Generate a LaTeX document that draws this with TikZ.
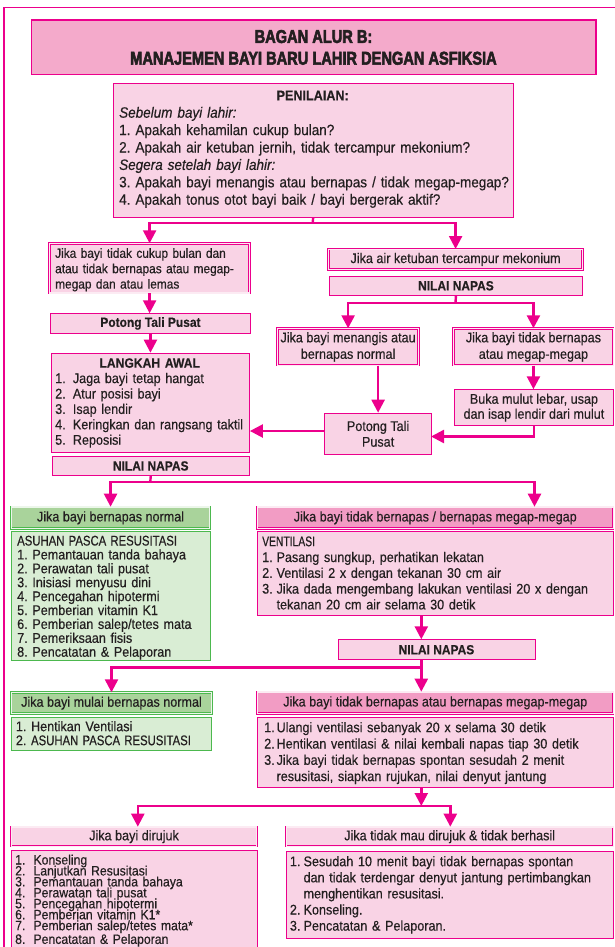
\documentclass[tikz,border=0pt]{standalone}
\usepackage{fontspec}
\usepackage{graphicx}
\setmainfont{Liberation Sans}[FakeStretch=0.9,FakeBold=0.4]
\newfontfamily\titlefont{Liberation Sans Bold}[FakeStretch=0.79,FakeBold=3]
\usetikzlibrary{arrows.meta}
\definecolor{mag}{RGB}{236,0,140}
\definecolor{pkl}{RGB}{249,211,229}
\definecolor{pkd}{RGB}{242,156,196}
\definecolor{pkt}{RGB}{244,170,203}
\definecolor{grl}{RGB}{217,237,212}
\definecolor{grd}{RGB}{169,211,155}
\definecolor{grb}{RGB}{76,184,78}
\definecolor{ink}{RGB}{35,31,32}
\newcommand\tightlines{\lineskiplimit=-20pt\relax\lineskip=0pt\relax}
\newcommand\nrw[1]{\scalebox{0.9}[1]{#1}}
\frenchspacing
\tikzset{
  bx/.style={draw=mag, fill=pkl, line width=0.9pt, inner sep=0pt, anchor=north west,
    text=ink, align=center, font=\fontsize{14}{16.5}\selectfont},
  dbl/.style={bx, line width=0.6pt, double=white!55!pkl, double distance=1.1pt},
  gbx/.style={bx, draw=grb, fill=grl},
  gdbl/.style={dbl, draw=grb, fill=grd, double=white!50!grl},
  pdbl/.style={dbl, fill=pkd},
  bold/.style={font=\bfseries\fontsize{13.3}{15}\selectfont},
  txt/.style={anchor=base west, inner sep=0pt, align=left, text=ink},
  ln/.style={draw=mag, line width=2.4pt},
  arr/.style={ln, -{Triangle[width=13pt,length=13pt]}},
  arrtwo/.style={ln, {Triangle[width=13pt,length=13pt]}-{Triangle[width=13pt,length=13pt]}}
}
\begin{document}
\begin{tikzpicture}[x=1pt,y=-1pt]
\useasboundingbox (0,0) rectangle (614,947);
% outer frame
\draw[mag, line width=1.3pt] (4,970) -- (4,7.5) -- (640,7.5);

% title
\node[bx, fill=pkt, line width=1.5pt, minimum width=564.5pt, minimum height=54.7pt,
  font=\titlefont\fontsize{18.5}{21.7}\selectfont] (title) at (30.5,19.3)
  {BAGAN ALUR B:\\MANAJEMEN BAYI BARU LAHIR DENGAN ASFIKSIA};

% penilaian
\node[bx, minimum width=400pt, minimum height=133.4pt] (pen) at (112.7,83.3) {};
\node[txt, text width=394pt, font=\fontsize{15}{17.4}\selectfont] (pent) at (119,100.3)
  {\makebox[387pt][c]{\bfseries\fontsize{14}{17.4}\selectfont PENILAIAN:}\\
   \textit{Sebelum bayi lahir:}\\
   1. Apakah kehamilan cukup bulan?\\
   2. Apakah air ketuban jernih, tidak tercampur mekonium?\\
   \textit{Segera setelah bayi lahir:}\\
   3. Apakah bayi menangis atau bernapas / tidak megap-megap?\\
   4. Apakah tonus otot bayi baik / bayi bergerak aktif?};

% left column
\node[dbl, minimum width=200pt, minimum height=49.4pt] (b1) at (49.3,243.3) {};
\node[txt, text width=192pt, font=\fontsize{13.2}{15.4}\selectfont] (b1t) at (55,257.8)
  {\makebox[190pt][s]{Jika bayi tidak cukup bulan dan}\\
   \makebox[190pt][s]{atau tidak bernapas atau megap-}\\
   megap dan atau lemas};
\node[bx, bold, minimum width=200pt, minimum height=19.4pt] (pt1) at (50,313.3) {Potong Tali Pusat};
\node[bx, minimum width=198.3pt, minimum height=99pt] (la) at (50.7,352.7) {};
\node[txt, text width=192pt, font=\fontsize{14}{15.4}\selectfont] (lat) at (55,367.7)
  {\makebox[189pt][c]{\bfseries\fontsize{13.5}{15.4}\selectfont LANGKAH AWAL}\\
   \makebox[17.7pt][l]{1.}Jaga bayi tetap hangat\\
   \makebox[17.7pt][l]{2.}Atur posisi bayi\\
   \makebox[17.7pt][l]{3.}Isap lendir\\
   \makebox[17.7pt][l]{4.}Keringkan dan rangsang taktil\\
   \makebox[17.7pt][l]{5.}Reposisi};
\node[bx, bold, minimum width=196.6pt, minimum height=19pt] (nn1) at (52,456) {NILAI NAPAS};

% right upper
\node[dbl, minimum width=254pt, minimum height=20.3pt] (ak) at (328.3,249) {Jika air ketuban tercampur mekonium};
\node[bx, bold, minimum width=252.4pt, minimum height=19.3pt] (nn2) at (329.3,275.7) {NILAI NAPAS};
\node[dbl, minimum width=141pt, minimum height=36.7pt] (mn) at (277.3,328.3) {Jika bayi menangis atau\\bernapas normal};
\node[dbl, minimum width=159.7pt, minimum height=36.7pt] (tb) at (453.3,328.3) {Jika bayi tidak bernapas\\atau megap-megap};
\node[bx, minimum width=159pt, minimum height=35.7pt, font=\fontsize{14}{15}\selectfont] (bm) at (454,389.3) {Buka mulut lebar, usap\\dan isap lendir dari mulut};
\node[bx, minimum width=106.7pt, minimum height=41.3pt, font=\fontsize{14}{15.7}\selectfont] (pt2) at (324.3,412.7) {Potong Tali\\Pusat};

% middle
\node[gdbl, minimum width=198.5pt, minimum height=21.6pt] (gh1) at (11,506.7) {Jika bayi bernapas normal};
\node[gbx, minimum width=198.5pt, minimum height=129.3pt] (gb1) at (11,530.7) {};
\node[txt, text width=192pt, font=\fontsize{14}{13.9}\selectfont] (gb1t) at (17,545.5)
  {\tightlines \nrw{ASUHAN PASCA RESUSITASI}\\
   1. Pemantauan tanda bahaya\\
   2. Perawatan tali pusat\\
   3. Inisiasi menyusu dini\\
   4. Pencegahan hipotermi\\
   5. Pemberian vitamin K1\\
   6. Pemberian salep/tetes mata\\
   7. Pemeriksaan fisis\\
   8. Pencatatan \& Pelaporan};
\node[pdbl, minimum width=356pt, minimum height=21.6pt] (ph1) at (257,506.7) {Jika bayi tidak bernapas / bernapas megap-megap};
\node[bx, minimum width=356pt, minimum height=84pt] (vb) at (257,531) {};
\node[txt, text width=345pt, font=\fontsize{14}{15.8}\selectfont] (vbt) at (262,546.2)
  {\scalebox{0.82}[1]{VENTILASI}\\
   \makebox[14.4pt][l]{1.}Pasang sungkup, perhatikan lekatan\\
   \makebox[14.4pt][l]{2.}Ventilasi 2 x dengan tekanan 30 cm air\\
   \makebox[14.4pt][l]{3.}Jika dada mengembang lakukan ventilasi 20 x dengan\\
   \hspace*{14.4pt}tekanan 20 cm air selama 30 detik};
\node[bx, bold, minimum width=197pt, minimum height=20pt] (nn3) at (337.5,639.3) {NILAI NAPAS};

% lower
\node[gdbl, minimum width=200.4pt, minimum height=21pt] (gh2) at (11,692.3) {Jika bayi mulai bernapas normal};
\node[gbx, minimum width=200.4pt, minimum height=33.3pt] (gb2) at (11,716.7) {};
\node[txt, text width=196pt, font=\fontsize{14}{14}\selectfont] (gb2t) at (15.7,731.2)
  {1. Hentikan Ventilasi\\2. \nrw{ASUHAN PASCA RESUSITASI}};
\node[pdbl, minimum width=356pt, minimum height=21.6pt] (ph2) at (257,691.7) {Jika bayi tidak bernapas atau bernapas megap-megap};
\node[bx, minimum width=356pt, minimum height=70pt] (ub) at (257,716.7) {};
\node[txt, text width=345pt, font=\fontsize{14}{16.3}\selectfont] (ubt) at (264,732.2)
  {\makebox[12.4pt][l]{1.}Ulangi ventilasi sebanyak 20 x selama 30 detik\\
   \makebox[12.4pt][l]{2.}Hentikan ventilasi \& nilai kembali napas tiap 30 detik\\
   \makebox[12.4pt][l]{3.}Jika bayi tidak bernapas spontan sesudah 2 menit\\
   \hspace*{12.4pt}resusitasi, siapkan rujukan, nilai denyut jantung};

% bottom
\node[dbl, minimum width=245.5pt, minimum height=19.3pt] (dh) at (11,826.7) {Jika bayi dirujuk};
\node[dbl, minimum width=327.2pt, minimum height=19.3pt] (th) at (285.8,826.7) {Jika tidak mau dirujuk \& tidak berhasil};
\node[bx, minimum width=245.5pt, minimum height=130pt] (dl) at (11,850) {};
\node[txt, text width=240pt, font=\fontsize{13.6}{10.95}\selectfont] (dlt) at (15,864.5)
  {\tightlines\makebox[18.3pt][l]{1.}Konseling\\
   \makebox[18.3pt][l]{2.}Lanjutkan Resusitasi\\
   \makebox[18.3pt][l]{3.}Pemantauan tanda bahaya\\
   \makebox[18.3pt][l]{4.}Perawatan tali pusat\\
   \makebox[18.3pt][l]{5.}Pencegahan hipotermi\\
   \makebox[18.3pt][l]{6.}Pemberian vitamin K1*\\
   \makebox[18.3pt][l]{7.}Pemberian salep/tetes mata*\\
   \makebox[18.3pt][l]{8.}Pencatatan \& Pelaporan};
\node[bx, minimum width=327.2pt, minimum height=86.7pt] (tl) at (285.8,851) {};
\node[txt, text width=318pt, font=\fontsize{14}{16.1}\selectfont] (tlt) at (289.7,866.2)
  {\makebox[13.7pt][l]{1.}Sesudah 10 menit bayi tidak bernapas spontan\\
   \hspace*{13.7pt}dan tidak terdengar denyut jantung pertimbangkan\\
   \hspace*{13.7pt}menghentikan resusitasi.\\
   \makebox[13.7pt][l]{2.}Konseling.\\
   \makebox[13.7pt][l]{3.}Pencatatan \& Pelaporan.};

% connectors
\coordinate (j1) at (312.7,222.7);
\draw[ln] (pen.south) -- (j1);
\draw[arrtwo] (b1.north) |- (j1) -| (ak.north);
\draw[arr] (b1.south) -- (b1.south |- pt1.north);
\draw[arr] (pt1.south) -- (pt1.south |- la.north);

\coordinate (j2) at (455.5,302.7);
\draw[ln] (nn2.south) -- (j2);
\draw[arrtwo] (mn.north) |- (j2) -| (tb.north);
\draw[arr] (tb.south) -- (tb.south |- bm.north);
\draw[arr] (pt2.north |- mn.south) -- (pt2.north);
\coordinate (k1) at (431,436.5);
\draw[arr] (bm.south) |- (k1);
\coordinate (k2) at (324.3,431);
\draw[arr] (k2) -- (k2 -| la.east);

\coordinate (j3) at (150.3,481.7);
\coordinate (x3) at (534.5,0);
\draw[ln] (nn1.south) -- (j3);
\draw[arrtwo] (gh1.north) |- (j3) -| (x3 |- ph1.north);

\coordinate (x4) at (421.3,0);
\coordinate (j4) at (421.3,667.3);
\draw[arr] (x4 |- vb.south) -- (x4 |- nn3.north);
\draw[ln] (x4 |- nn3.south) -- (j4);
\draw[arrtwo] (gh2.north) |- (j4) -- (j4 |- ph2.north);

\coordinate (j5) at (421.3,806);
\coordinate (x5a) at (137.8,806);
\coordinate (x5b) at (450.3,806);
\draw[arr] (x4 |- ub.south) -- (j5);
\draw[arrtwo] (x5a |- dh.north) -- (x5a) -- (x5b) -- (x5b |- th.north);
\end{tikzpicture}
\end{document}
